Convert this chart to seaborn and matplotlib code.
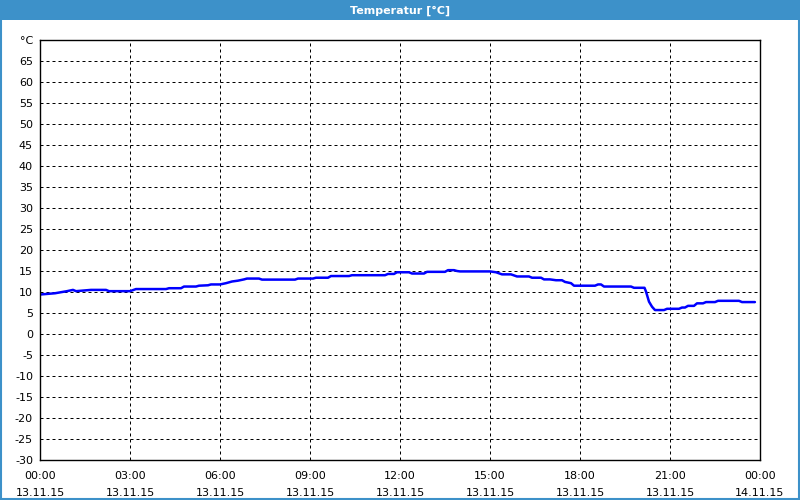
import pandas as pd
import matplotlib.pyplot as plt
import matplotlib.dates as mdates
from matplotlib.patches import Rectangle
import seaborn as sns

# Messwerte (Stunden ab 13.11.15 00:00, Temperatur in °C)
stunden = [0.0, 0.5, 0.9, 1.1, 1.2, 1.7, 2.2, 2.3, 3.0, 3.2, 4.2, 4.3, 4.7, 4.8,
           5.2, 5.3, 5.6, 5.7, 6.0, 6.2, 6.4, 6.6, 6.8, 6.9, 7.3, 7.4, 8.5, 8.6,
           9.1, 9.2, 9.6, 9.7, 10.3, 10.4, 11.5, 11.6, 11.8, 11.9, 12.3, 12.4,
           12.8, 12.9, 13.5, 13.6, 13.8, 13.9, 14.0, 15.0, 15.2, 15.4, 15.7,
           15.9, 16.3, 16.4, 16.7, 16.8, 17.0, 17.2, 17.4, 17.5, 17.7, 17.8,
           18.5, 18.6, 18.7, 18.8, 19.7, 19.8, 20.15, 20.2, 20.3, 20.4, 20.5,
           20.8, 20.9, 21.3, 21.4, 21.5, 21.6, 21.8, 21.9, 22.1, 22.2, 22.5,
           22.6, 23.3, 23.4, 23.83]
temperatur = [9.4, 9.7, 10.2, 10.5, 10.2, 10.5, 10.5, 10.2, 10.2, 10.7, 10.7, 10.9,
              10.9, 11.3, 11.3, 11.5, 11.6, 11.8, 11.8, 12.1, 12.5, 12.7, 13.0,
              13.2, 13.2, 12.95, 12.95, 13.2, 13.2, 13.4, 13.4, 13.8, 13.8, 14.0,
              14.0, 14.3, 14.3, 14.7, 14.7, 14.4, 14.4, 14.8, 14.8, 15.2, 15.2,
              15.0, 14.9, 14.9, 14.7, 14.2, 14.2, 13.7, 13.7, 13.4, 13.4, 13.0,
              13.0, 12.8, 12.8, 12.4, 12.1, 11.5, 11.5, 11.8, 11.8, 11.3, 11.3,
              11.0, 11.0, 10.1, 7.7, 6.5, 5.7, 5.7, 6.0, 6.0, 6.3, 6.3, 6.7, 6.7,
              7.3, 7.3, 7.6, 7.6, 7.9, 7.9, 7.6, 7.6]

start = pd.Timestamp('2015-11-13 00:00')
ende = pd.Timestamp('2015-11-14 00:00')
y_ticks = list(range(-30, 75, 5))
y_labels = [str(v) for v in y_ticks[:-1]] + ['°C']
titel = 'Temperatur [°C]'

df = pd.DataFrame({'Zeit': start + pd.to_timedelta(stunden, unit='h'),
                   'Temperatur': temperatur})

sns.set_style("white")
plt.rcParams['font.family'] = ['DejaVu Sans']
plt.rcParams['font.size'] = 8
plt.rcParams['text.color'] = 'black'

fig = plt.figure(figsize=(8, 5), dpi=100)
ax = fig.add_axes([0.05, 0.08, 0.90, 0.84])

sns.lineplot(data=df, x='Zeit', y='Temperatur', ax=ax, color='#0000ff', linewidth=1.8)

ax.set_xlim(start, ende)
ax.set_ylim(-30, 70)
ax.set_yticks(y_ticks)
ax.set_yticklabels(y_labels)
ax.xaxis.set_major_locator(mdates.HourLocator(byhour=range(0, 24, 3)))
ax.xaxis.set_minor_locator(mdates.HourLocator())
ax.xaxis.set_major_formatter(mdates.DateFormatter('%H:%M\n%d.%m.%y'))
for lbl in ax.get_xticklabels():
    lbl.set_linespacing(1.8)

ax.grid(True, which='major', color='black', linestyle=(0, (3, 3)), linewidth=0.72)
ax.tick_params(axis='both', which='major', direction='out', length=3, width=0.8,
               color='black', labelcolor='black', labelsize=8, pad=2)
ax.tick_params(axis='x', which='minor', direction='out', length=2.5, width=0.8, color='black')
ax.tick_params(axis='x', which='major', pad=5)
for sp in ax.spines.values():
    sp.set_color('black')
    sp.set_linewidth(1)
ax.set_xlabel('')
ax.set_ylabel('')

# Titelleiste und Rahmen
fig.patches.append(Rectangle((0, 0.96), 1, 0.04, transform=fig.transFigure,
                             facecolor='#3d91c9', edgecolor='none', zorder=0))
fig.patches.append(Rectangle((0.001, 0.002), 0.998, 0.99, transform=fig.transFigure,
                             facecolor='none', edgecolor='#3d91c9', linewidth=1.5))
fig.text(0.5, 0.979, titel, color='white', ha='center', va='center',
         fontsize=8, fontweight='bold')

fig.savefig('out.png', dpi=100, facecolor='white')
